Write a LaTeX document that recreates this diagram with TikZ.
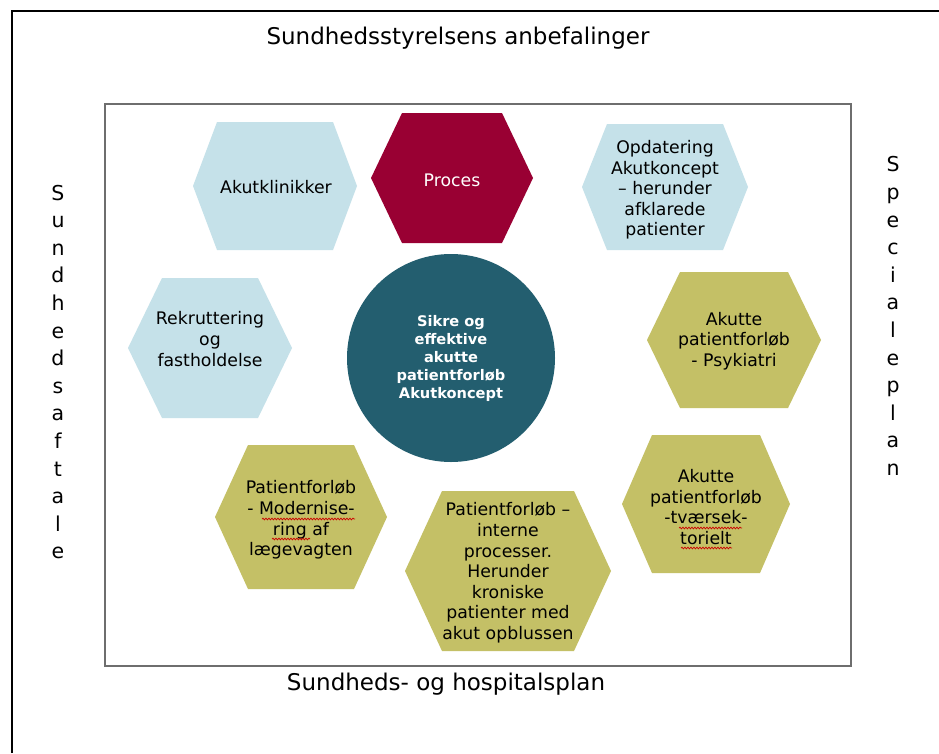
\documentclass[tikz,border=0pt]{standalone}
\usepackage{fontspec}
\setmainfont{DejaVu Sans}
\usetikzlibrary{decorations.pathmorphing}
\definecolor{lblue}{RGB}{197,225,233}
\definecolor{olive}{RGB}{196,192,102}
\definecolor{wine}{RGB}{153,0,51}
\definecolor{teal2}{RGB}{35,94,111}
\definecolor{frame}{RGB}{110,110,110}
\newcommand\hexa[7]{%
  \fill[#6] ({#1-#3},#2) -- ({#1-#5},{#2-#4}) -- ({#1+#5},{#2-#4}) -- ({#1+#3},#2) -- ({#1+#5},{#2+#4}) -- ({#1-#5},{#2+#4}) -- cycle;
  \node[hextext] (#7) at (#1,#2) {};}
\tikzset{
  hextext/.style={align=center, inner sep=0pt, font=\fontsize{17.3}{20.6}\selectfont},
  sidetext/.style={font=\fontsize{20.5}{27.6}\selectfont, align=center, inner sep=0pt},
  titletext/.style={font=\fontsize{23}{27}\selectfont, inner sep=0pt},
  spell/.style={red!80!black, line width=0.7pt, decorate, decoration={snake, amplitude=0.9pt, segment length=3pt}},
}
\begin{document}
\begin{tikzpicture}[x=1pt,y=-1pt]
\useasboundingbox (0,0) rectangle (939,753);
\fill[white] (0,0) rectangle (939,753);
% outer frame
\draw[black, line width=1.4pt] (12,753) -- (12,11) -- (939,11);
% inner frame
\draw[frame, line width=1.5pt] (105,104) rectangle (851,666);
% titles
\node[titletext] (top) at (458,38) {Sundhedsstyrelsens anbefalinger};
\node[titletext] (bottom) at (446,684) {Sundheds- og hospitalsplan};
\node[sidetext] (left) at (58,372) {S\\u\\n\\d\\h\\e\\d\\s\\a\\f\\t\\a\\l\\e};
\node[sidetext] (right) at (893,316) {S\\p\\e\\c\\i\\a\\l\\e\\p\\l\\a\\n};
% hexagons
\hexa{275}{186}{82}{64}{58}{lblue}{h1}
\hexa{452}{178}{81}{65}{50}{wine}{h2}
\hexa{665}{187}{83}{63}{58}{lblue}{h3}
\hexa{210}{348}{82}{70}{48}{lblue}{h4}
\hexa{734}{340}{87}{68}{54}{olive}{h5}
\hexa{301}{517}{86}{72}{53}{olive}{h6}
\hexa{508}{571}{103}{80}{66}{olive}{h7}
\hexa{706}{504}{84}{69}{54}{olive}{h8}
% circle
\fill[teal2] (451,358) circle (104);
\node[align=center, inner sep=0pt, text=white, font=\bfseries\fontsize{14.6}{18}\selectfont] (c) at (451,358) {Sikre og\\effektive\\akutte\\patientforløb\\Akutkoncept};
% hex texts
\node[hextext] (t1) at (276,187) {Akutklinikker};
\node[hextext, text=white] (t2) at (452,180) {Proces};
\node[hextext] (t3) at (665,190) {Opdatering\\Akutkoncept\\– herunder\\afklarede\\patienter};
\node[hextext] (t4) at (210,339) {Rekruttering\\og\\fastholdelse};
\node[hextext] (t5) at (734,341) {Akutte\\patientforløb\\- Psykiatri};
\node[hextext] (t6) at (301,520) {Patientforløb\\- Modernise-\\ring af\\lægevagten};
\node[hextext] (t7) at (508,573) {Patientforløb –\\interne\\processer.\\Herunder\\kroniske\\patienter med\\akut opblussen};
\node[hextext] (t8) at (706,507) {Akutte\\patientforløb\\-tværsek-\\torielt};
% spell-check underlines
\draw[spell] (262,519) -- (355,519);
\draw[spell] (272,539) -- (310,539);
\draw[spell] (679,528) -- (742,528);
\draw[spell] (681,548) -- (732,548);
\end{tikzpicture}
\end{document}
